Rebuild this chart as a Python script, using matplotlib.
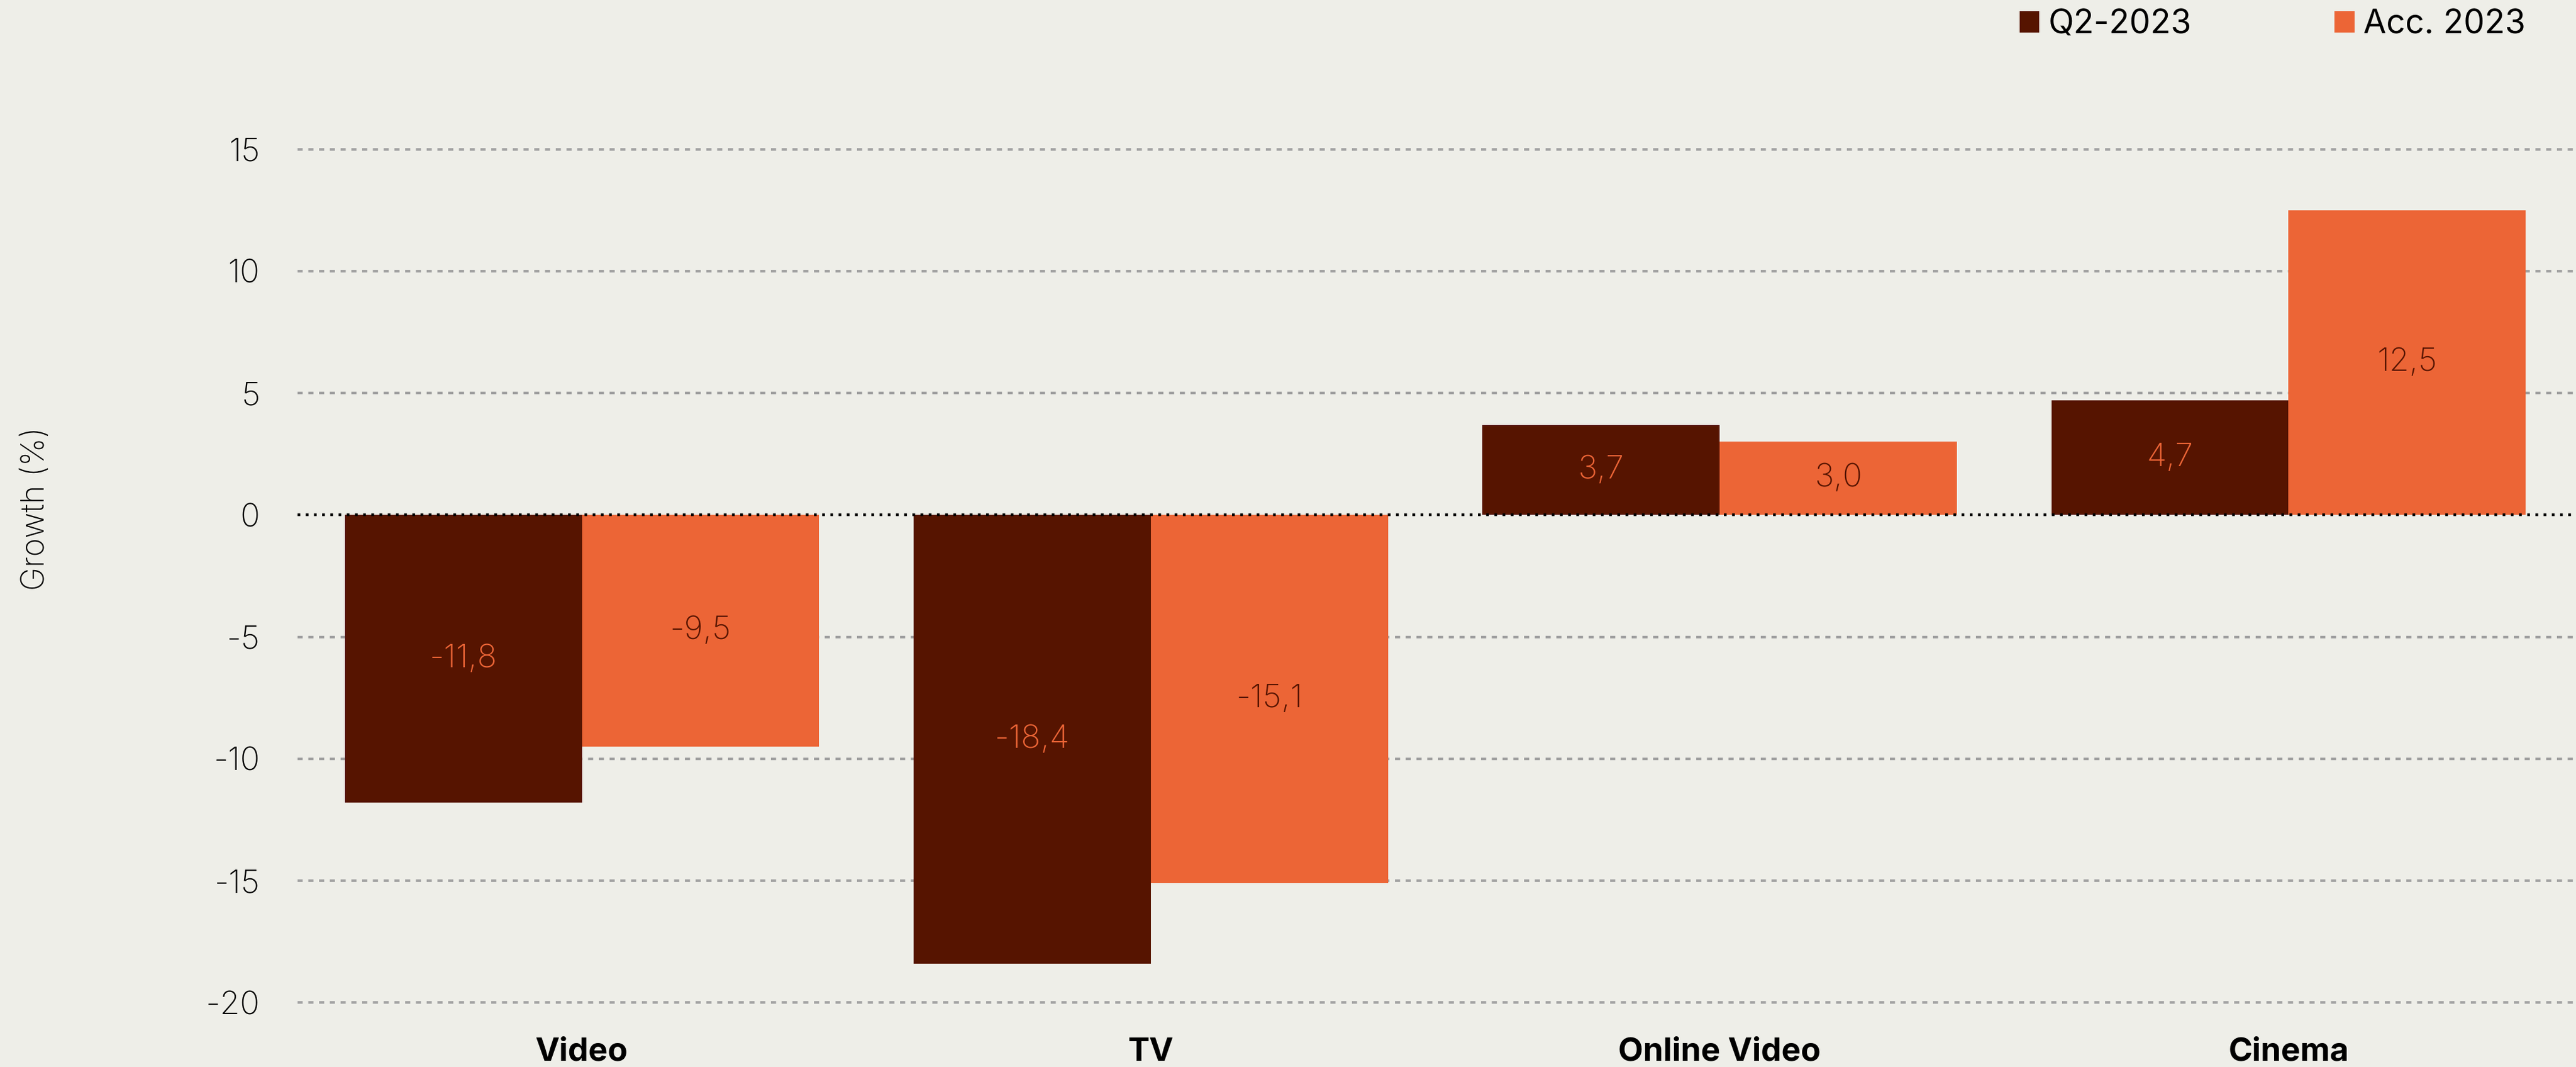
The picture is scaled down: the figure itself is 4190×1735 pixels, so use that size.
import numpy as np
import matplotlib.pyplot as plt
from matplotlib.patches import Patch

categorias = ['Video', 'TV', 'Online Video', 'Cinema']
q2_2023 = [-11.8, -18.4, 3.7, 4.7]
acc_2023 = [-9.5, -15.1, 3.0, 12.5]
series = ['Q2-2023', 'Acc. 2023']
yticks = [-20, -15, -10, -5, 0, 5, 10, 15]

fundo = '#EEEEE8'
escuro = '#561400'
laranja = '#EC6536'

plt.rcParams['font.family'] = ['Inter', 'DejaVu Sans']

fig = plt.figure(figsize=(20.95, 8.675), dpi=200, facecolor=fundo)
ax = fig.add_axes([0.1155, 0.0375, 0.8833, 0.8455])
ax.set_facecolor(fundo)

x = np.arange(len(categorias))
w = 0.417
b1 = ax.bar(x - w/2, q2_2023, w, color=escuro, zorder=3)
b2 = ax.bar(x + w/2, acc_2023, w, color=laranja, zorder=3)

# rótulos no meio de cada barra
for barras, vals, cor in [(b1, q2_2023, laranja), (b2, acc_2023, escuro)]:
    for r, v in zip(barras, vals):
        ax.text(r.get_x() + r.get_width()/2, v/2, f'{v:.1f}'.replace('.', ','),
                ha='center', va='center', color=cor, fontsize=19,
                fontweight='light', zorder=4)

ax.set_xlim(-0.5, 3.5)
ax.set_ylim(-21, 16)
ax.set_yticks(yticks)
ax.set_yticklabels([str(t) for t in yticks], fontsize=19, fontweight='light')
ax.set_xticks(x)
ax.set_xticklabels(categorias, fontsize=19, fontweight='bold')
ax.tick_params(length=0, axis='y', pad=22)
ax.tick_params(length=0, axis='x', pad=6)

for t in yticks:
    if t == 0:
        ax.axhline(0, color='black', lw=1.6, ls=(0, (1, 2)), zorder=5)
    else:
        ax.axhline(t, color='#a0a0a0', lw=1.5, ls=(0, (2, 2.2)), zorder=1)

for s in ax.spines.values():
    s.set_visible(False)

fig.text(0.014, 0.523, 'Growth (%)', rotation=90, ha='center', va='center',
         fontsize=18.5, fontweight='light')

handles = [Patch(color=escuro), Patch(color=laranja)]
fig.legend(handles, series, loc='upper right', bbox_to_anchor=(0.992, 1.02),
           ncol=2, frameon=False, fontsize=19.5, handlelength=0.55,
           handleheight=0.55, handletextpad=0.3, columnspacing=4.3)

fig.savefig('out.png', facecolor=fundo)
